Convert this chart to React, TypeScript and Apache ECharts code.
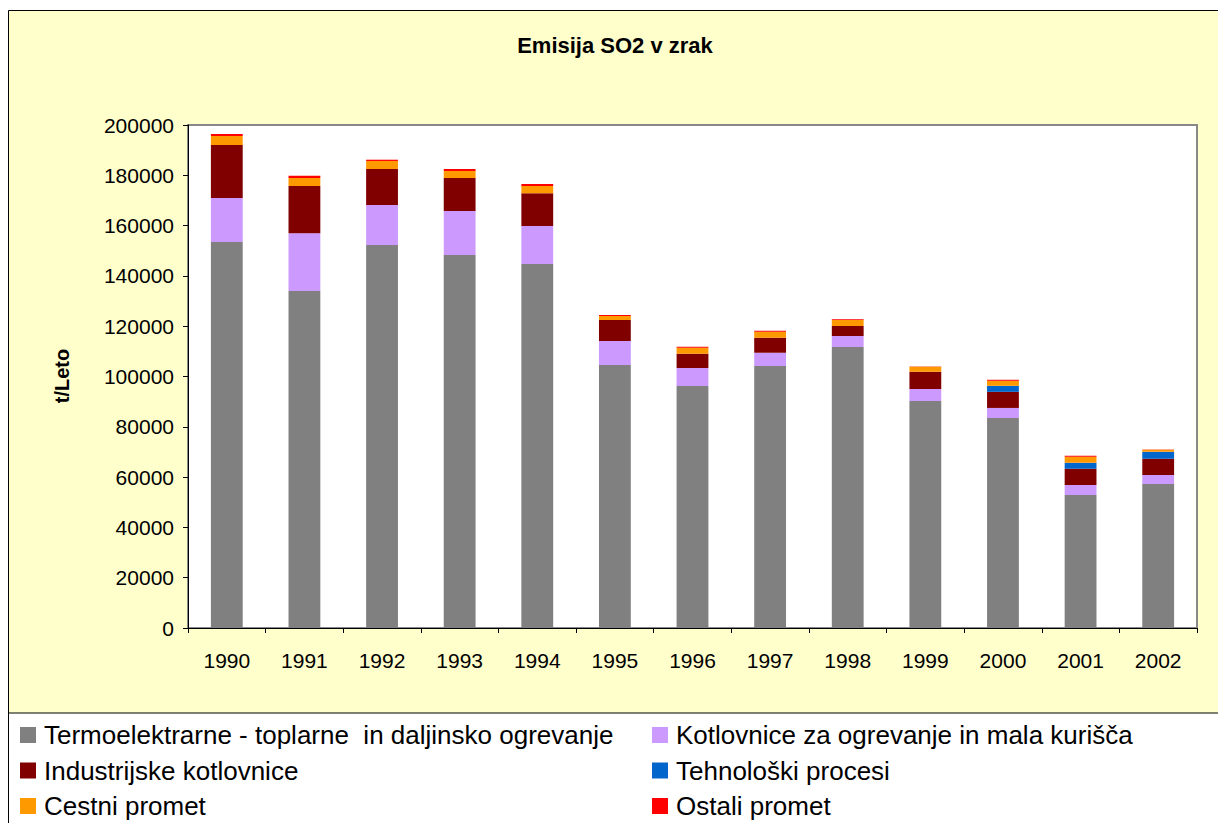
import React, { useEffect, useRef } from "react";
import * as echarts from "echarts";

const years = ["1990", "1991", "1992", "1993", "1994", "1995", "1996", "1997", "1998", "1999", "2000", "2001", "2002"];

const termoelektrarne = [153500, 134000, 152300, 148300, 144700, 104600, 96200, 104200, 111700, 90250, 83500, 52900, 57250];
const kotlovnice = [17500, 23000, 15900, 17500, 15100, 9500, 7200, 5200, 4400, 4800, 4000, 4000, 3600];
const industrijske = [21000, 18700, 14300, 13100, 13100, 8400, 5600, 6000, 4000, 6800, 6400, 6400, 6400];
const tehnoloski = [0, 0, 0, 0, 0, 0, 0, 0, 0, 0, 2400, 2400, 2800];
const cestni = [3600, 3200, 3200, 2800, 2800, 1600, 2400, 2400, 2400, 2000, 2000, 2400, 800];
const ostali = [800, 900, 500, 800, 800, 400, 400, 400, 300, 100, 400, 400, 100];

const yTicks = { min: 0, max: 200000, interval: 20000 };

const seriesDefs = [
  { name: "Termoelektrarne - toplarne  in daljinsko ogrevanje", data: termoelektrarne, color: "#808080" },
  { name: "Kotlovnice za ogrevanje in mala kurišča", data: kotlovnice, color: "#CC99FF" },
  { name: "Industrijske kotlovnice", data: industrijske, color: "#800000" },
  { name: "Tehnološki procesi", data: tehnoloski, color: "#0066CC" },
  { name: "Cestni promet", data: cestni, color: "#FF9900" },
  { name: "Ostali promet", data: ostali, color: "#FF0000" },
];

// legend grid: [seriesIndex, column, row]
const legendLayout = [
  [0, 0, 0],
  [1, 1, 0],
  [2, 0, 1],
  [3, 1, 1],
  [4, 0, 2],
  [5, 1, 2],
];

const FONT = "'Liberation Sans', Arial, sans-serif";

export default function App() {
  const ref = useRef<HTMLDivElement>(null);
  useEffect(() => {
    if (!ref.current) return;
    const chart = echarts.init(ref.current, undefined, { renderer: "svg" });
    const colX = [20, 652];
    const rowY = [735, 770.5, 806];
    const legends = legendLayout.map(([si, c, r]) => ({
      orient: "horizontal",
      left: colX[c],
      top: rowY[r] - 13,
      padding: 0,
      itemWidth: 16,
      itemHeight: 16,
      icon: "rect",
      textStyle: { fontSize: 26, color: "#000", fontFamily: FONT, lineHeight: 26, padding: [0, 0, 0, 3] },
      data: [seriesDefs[si].name],
    }));
    chart.setOption({
      animation: false,
      textStyle: { fontFamily: FONT },
      graphic: [
        {
          type: "rect",
          z: -100,
          shape: { x: 8.5, y: 10.5, width: 1300, height: 702.5 },
          style: { fill: "#FFFFCC", stroke: "#000", lineWidth: 1 },
        },
        {
          type: "line",
          z: -100,
          shape: { x1: 8.5, y1: 713, x2: 8.5, y2: 830 },
          style: { stroke: "#000", lineWidth: 1 },
        },
        {
          type: "text",
          x: 615,
          y: 45,
          style: {
            text: "Emisija SO2 v zrak",
            fontSize: 22,
            fontWeight: "bold",
            fontFamily: FONT,
            fill: "#000",
            align: "center",
            verticalAlign: "middle",
          },
        },
        {
          type: "text",
          x: 62,
          y: 376,
          rotation: Math.PI / 2,
          style: {
            text: "t/Leto",
            fontSize: 20,
            fontWeight: "bold",
            fontFamily: FONT,
            fill: "#000",
            align: "center",
            verticalAlign: "middle",
          },
        },
      ],
      grid: {
        left: 188,
        top: 125,
        width: 1009,
        height: 503,
        show: true,
        backgroundColor: "#FFFFFF",
        borderColor: "#888888",
        borderWidth: 2,
      },
      legend: legends,
      xAxis: {
        type: "category",
        data: years,
        axisLine: { show: true, lineStyle: { color: "#000", width: 1 } },
        axisTick: { show: true, length: 5, interval: 0, lineStyle: { color: "#000" } },
        axisLabel: { fontSize: 21, color: "#000", margin: 22, fontFamily: FONT },
        splitLine: { show: false },
      },
      yAxis: {
        type: "value",
        min: yTicks.min,
        max: yTicks.max,
        interval: yTicks.interval,
        axisLine: { show: true, lineStyle: { color: "#000", width: 1 } },
        axisTick: { show: true, length: 5, lineStyle: { color: "#000" } },
        axisLabel: {
          fontSize: 21,
          color: "#000",
          margin: 14,
          fontFamily: FONT,
          formatter: (v: number) => String(v),
        },
        splitLine: {
          show: true,
          lineStyle: { color: "#222", width: 1, shadowColor: "#aaaaaa", shadowOffsetY: 1.5, shadowBlur: 0 },
        },
      },
      series: seriesDefs.map((s) => ({
        name: s.name,
        type: "bar",
        stack: "total",
        barWidth: "41%",
        data: s.data,
        itemStyle: { color: s.color },
      })),
    });
    return () => chart.dispose();
  }, []);
  return (
    <div
      ref={ref}
      style={{ position: "absolute", left: 0, top: 0, width: 1218, height: 823, background: "#fff" }}
    />
  );
}
